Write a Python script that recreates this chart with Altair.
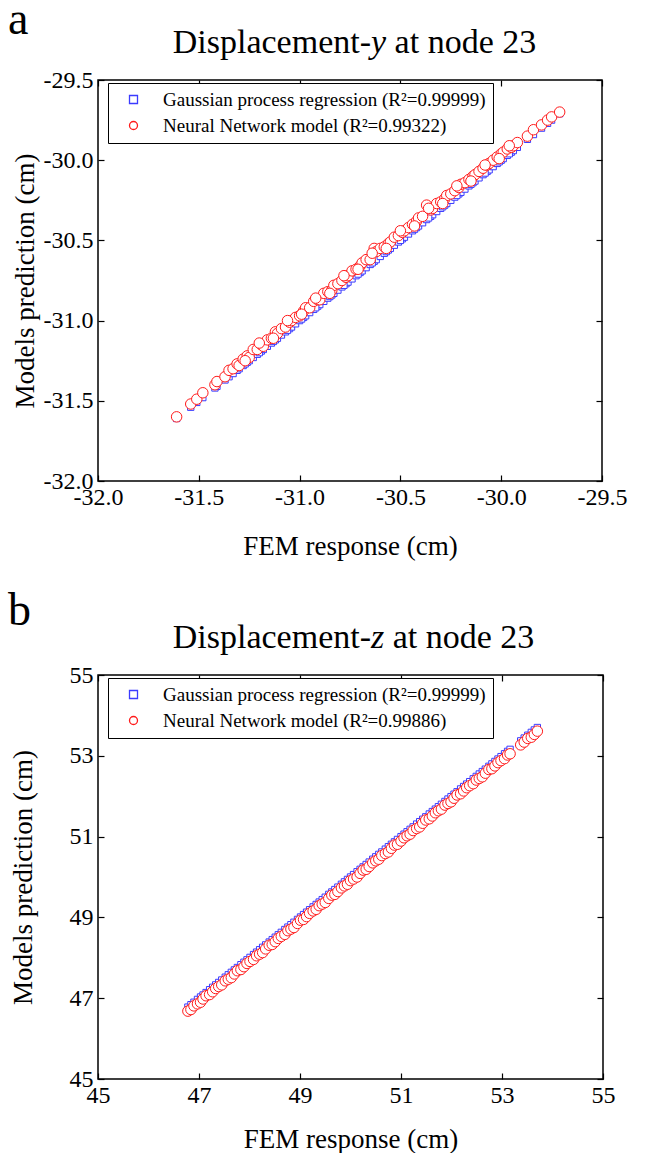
import altair as alt
import pandas as pd

# ---------------- data: panel a (Displacement-y) ----------------
fem_a = [
    -31.61, -31.54, -31.51, -31.48, -31.42, -31.41, -31.37, -31.35, -31.33, -31.31,
    -31.30, -31.28, -31.26, -31.25, -31.23, -31.21, -31.19, -31.18, -31.16, -31.14,
    -31.12, -31.11, -31.09, -31.07, -31.05, -31.04, -31.02, -31.00, -30.98, -30.97,
    -30.95, -30.93, -30.91, -30.90, -30.88, -30.86, -30.84, -30.83, -30.81, -30.79,
    -30.77, -30.76, -30.74, -30.72, -30.70, -30.69, -30.67, -30.65, -30.63, -30.62,
    -30.60, -30.58, -30.56, -30.55, -30.53, -30.51, -30.49, -30.48, -30.46, -30.44,
    -30.42, -30.41, -30.39, -30.37, -30.35, -30.34, -30.32, -30.30, -30.28, -30.27,
    -30.25, -30.23, -30.21, -30.20, -30.18, -30.16, -30.14, -30.13, -30.11, -30.09,
    -30.07, -30.06, -30.04, -30.02, -30.00, -29.99, -29.97, -29.95, -29.94, -29.92,
    -29.87, -29.84, -29.80, -29.77, -29.75, -29.71,
    -31.27, -31.20, -31.13, -31.06, -30.99, -30.92, -30.85, -30.78, -30.71, -30.64,
    -30.57, -30.50, -30.43, -30.36, -30.29, -30.22, -30.15, -30.08, -30.01, -29.96,
]
gpr_a = [
    -31.61, -31.54, -31.51, -31.48, -31.42, -31.41, -31.37, -31.35, -31.33, -31.31,
    -31.30, -31.28, -31.26, -31.25, -31.23, -31.21, -31.19, -31.18, -31.16, -31.14,
    -31.12, -31.11, -31.09, -31.07, -31.05, -31.04, -31.02, -31.00, -30.98, -30.97,
    -30.95, -30.93, -30.91, -30.90, -30.88, -30.86, -30.84, -30.83, -30.81, -30.79,
    -30.77, -30.76, -30.74, -30.72, -30.70, -30.69, -30.67, -30.65, -30.63, -30.62,
    -30.60, -30.58, -30.56, -30.55, -30.53, -30.51, -30.49, -30.48, -30.46, -30.44,
    -30.42, -30.41, -30.39, -30.37, -30.35, -30.34, -30.32, -30.30, -30.28, -30.27,
    -30.25, -30.23, -30.21, -30.20, -30.18, -30.16, -30.14, -30.13, -30.11, -30.09,
    -30.07, -30.06, -30.04, -30.02, -30.00, -29.99, -29.97, -29.95, -29.94, -29.92,
    -29.87, -29.84, -29.80, -29.77, -29.75, -29.71,
    -31.27, -31.20, -31.13, -31.06, -30.99, -30.92, -30.85, -30.78, -30.71, -30.64,
    -30.57, -30.50, -30.43, -30.36, -30.29, -30.22, -30.15, -30.08, -30.01, -29.96,
]
nn_a = [
    -31.60, -31.52, -31.49, -31.45, -31.40, -31.38, -31.35, -31.31, -31.30, -31.27,
    -31.28, -31.24, -31.22, -31.23, -31.18, -31.18, -31.15, -31.16, -31.12, -31.11,
    -31.07, -31.08, -31.05, -31.04, -31.01, -31.00, -30.98, -30.97, -30.94, -30.92,
    -30.92, -30.88, -30.87, -30.87, -30.83, -30.82, -30.81, -30.78, -30.77, -30.75,
    -30.73, -30.72, -30.69, -30.68, -30.66, -30.64, -30.62, -30.62, -30.55, -30.57,
    -30.55, -30.54, -30.52, -30.51, -30.48, -30.47, -30.45, -30.44, -30.42, -30.40,
    -30.38, -30.36, -30.35, -30.28, -30.31, -30.30, -30.27, -30.26, -30.24, -30.22,
    -30.21, -30.19, -30.17, -30.15, -30.14, -30.12, -30.10, -30.09, -30.07, -30.05,
    -30.03, -30.02, -30.00, -29.98, -29.96, -29.95, -29.93, -29.92, -29.91, -29.89,
    -29.85, -29.81, -29.78, -29.75, -29.73, -29.70,
    -31.25, -31.14, -31.11, -31.00, -30.96, -30.86, -30.83, -30.72, -30.68, -30.58,
    -30.55, -30.44, -30.41, -30.30, -30.27, -30.16, -30.13, -30.03, -29.99, -29.91,
]

# ---------------- data: panel b (Displacement-z) ----------------
fem_b = [
    46.78, 46.84, 46.90, 46.97, 47.03, 47.08, 47.14, 47.21, 47.27, 47.33,
    47.39, 47.45, 47.52, 47.58, 47.64, 47.70, 47.76, 47.83, 47.89, 47.95,
    48.01, 48.08, 48.14, 48.20, 48.26, 48.32, 48.39, 48.45, 48.51, 48.57,
    48.63, 48.70, 48.76, 48.82, 48.88, 48.95, 49.01, 49.07, 49.13, 49.19,
    49.26, 49.32, 49.38, 49.44, 49.50, 49.57, 49.63, 49.69, 49.75, 49.82,
    49.88, 49.94, 50.00, 50.06, 50.13, 50.19, 50.25, 50.31, 50.37, 50.44,
    50.50, 50.56, 50.62, 50.69, 50.75, 50.81, 50.87, 50.93, 51.00, 51.06,
    51.12, 51.18, 51.24, 51.31, 51.37, 51.43, 51.49, 51.56, 51.62, 51.68,
    51.74, 51.80, 51.87, 51.93, 51.99, 52.05, 52.11, 52.18, 52.24, 52.30,
    52.36, 52.43, 52.49, 52.55, 52.61, 52.67, 52.74, 52.80, 52.86, 52.92,
    52.98, 53.05, 53.11, 53.16, 53.37, 53.44, 53.51, 53.58, 53.64, 53.70,
]
gpr_b = [
    46.78, 46.84, 46.90, 46.97, 47.03, 47.08, 47.14, 47.21, 47.27, 47.33,
    47.39, 47.45, 47.52, 47.58, 47.64, 47.70, 47.76, 47.83, 47.89, 47.95,
    48.01, 48.08, 48.14, 48.20, 48.26, 48.32, 48.39, 48.45, 48.51, 48.57,
    48.63, 48.70, 48.76, 48.82, 48.88, 48.95, 49.01, 49.07, 49.13, 49.19,
    49.26, 49.32, 49.38, 49.44, 49.50, 49.57, 49.63, 49.69, 49.75, 49.82,
    49.88, 49.94, 50.00, 50.06, 50.13, 50.19, 50.25, 50.31, 50.37, 50.44,
    50.50, 50.56, 50.62, 50.69, 50.75, 50.81, 50.87, 50.93, 51.00, 51.06,
    51.12, 51.18, 51.24, 51.31, 51.37, 51.43, 51.49, 51.56, 51.62, 51.68,
    51.74, 51.80, 51.87, 51.93, 51.99, 52.05, 52.11, 52.18, 52.24, 52.30,
    52.36, 52.43, 52.49, 52.55, 52.61, 52.67, 52.74, 52.80, 52.86, 52.92,
    52.98, 53.05, 53.11, 53.16, 53.37, 53.44, 53.51, 53.58, 53.64, 53.70,
]
nn_b = [
    46.68, 46.72, 46.81, 46.86, 46.90, 46.98, 47.06, 47.09, 47.16, 47.24,
    47.29, 47.33, 47.43, 47.47, 47.51, 47.60, 47.68, 47.71, 47.78, 47.86,
    47.91, 47.96, 48.05, 48.09, 48.13, 48.22, 48.31, 48.33, 48.40, 48.48,
    48.53, 48.58, 48.67, 48.71, 48.75, 48.85, 48.93, 48.95, 49.02, 49.10,
    49.16, 49.20, 49.29, 49.33, 49.37, 49.47, 49.55, 49.57, 49.64, 49.73,
    49.78, 49.82, 49.91, 49.95, 50.00, 50.09, 50.17, 50.19, 50.26, 50.35,
    50.40, 50.44, 50.53, 50.58, 50.62, 50.71, 50.79, 50.81, 50.89, 50.97,
    51.02, 51.06, 51.15, 51.20, 51.24, 51.33, 51.41, 51.44, 51.51, 51.59,
    51.64, 51.68, 51.78, 51.82, 51.86, 51.95, 52.03, 52.06, 52.13, 52.21,
    52.26, 52.31, 52.40, 52.44, 52.48, 52.57, 52.66, 52.68, 52.75, 52.83,
    52.88, 52.93, 53.02, 53.05, 53.27, 53.34, 53.43, 53.46, 53.53, 53.61,
]

labels_a = ["Gaussian process regression (R²=0.99999)", "Neural Network model (R²=0.99322)"]
labels_b = ["Gaussian process regression (R²=0.99999)", "Neural Network model (R²=0.99886)"]
ticks_a = [-32.0, -31.5, -31.0, -30.5, -30.0, -29.5]
ticks_b = [45, 47, 49, 51, 53, 55]

FONT = "Liberation Serif, Times New Roman, Times, serif"
BLUE = "#3b3bff"
RED = "#ff1a1a"
LBL_A = "(datum.value < 0 ? '-' : '') + format(abs(datum.value), '.1f')"
LBL_B = "format(datum.value, 'd')"


def text_layer(txt, x, y, size, align="left", style="normal"):
    return alt.Chart(pd.DataFrame({"t": [txt]})).mark_text(
        font=FONT, fontSize=size, align=align, baseline="alphabetic",
        fontStyle=style, color="black",
    ).encode(x=alt.value(x), y=alt.value(y), text="t:N")


def panel(fem, gpr, nn, labels, ticks, lexpr, letter, letter_y, var, var_w, w, h, ytp, xtp):
    df_g = pd.DataFrame({"fem": fem, "pred": gpr, "model": [labels[0]] * len(gpr)})
    df_n = pd.DataFrame({"fem": fem, "pred": nn, "model": [labels[1]] * len(nn)})
    dom = [ticks[0], ticks[-1]]
    xs = alt.Scale(domain=dom, nice=False, zero=False)
    ys = alt.Scale(domain=dom, nice=False, zero=False)
    common_axis = dict(
        values=ticks, labelExpr=lexpr, offset=-6, domain=False, tickSize=6,
        tickColor="black", tickWidth=1.2, grid=False, labelFont=FONT,
        labelFontSize=24, labelColor="black", labelFlush=False,
        labelOverlap=False, titleFont=FONT, titleFontSize=27,
        titleFontWeight="normal", titleColor="black",
    )
    xa = alt.Axis(orient="bottom", title="FEM response (cm)", labelPadding=4,
                  titlePadding=xtp, **common_axis)
    ya = alt.Axis(orient="left", title="Models prediction (cm)", labelPadding=5,
                  titlePadding=ytp, **common_axis)
    xt = alt.Axis(orient="top", labels=False, title=None, values=ticks, offset=-6,
                  domain=False, tickSize=6, tickColor="black", tickWidth=1.2, grid=False)
    yt = alt.Axis(orient="right", labels=False, title=None, values=ticks, offset=-6,
                  domain=False, tickSize=6, tickColor="black", tickWidth=1.2, grid=False)
    leg = alt.Legend(
        title=None, orient="none", legendX=10, legendY=3, direction="vertical",
        strokeColor="black", fillColor="white", padding=7,
        labelFont=FONT, labelFontSize=19, labelColor="black", labelLimit=800,
        symbolSize=64, symbolStrokeWidth=1.3, symbolFillColor="white",
        symbolOffset=9, labelOffset=20, rowPadding=6,
    )
    color = alt.Color("model:N", scale=alt.Scale(domain=labels, range=[BLUE, RED]), legend=leg)
    shape = alt.Shape("model:N", scale=alt.Scale(domain=labels, range=["square", "circle"]), legend=leg)

    g = alt.Chart(df_g).mark_point(size=40, strokeWidth=1, fill="white", fillOpacity=1, opacity=1).encode(
        x=alt.X("fem:Q", scale=xs, axis=xa),
        y=alt.Y("pred:Q", scale=ys, axis=ya),
        color=color, shape=shape,
    )
    n = alt.Chart(df_n).mark_point(size=110, strokeWidth=1, fill="white", fillOpacity=1, opacity=1).encode(
        x=alt.X("fem:Q", scale=xs, axis=None),
        y=alt.Y("pred:Q", scale=ys, axis=None),
        color=color, shape=shape,
    )
    frame_axes = alt.Chart(df_g).mark_point(opacity=0, size=1).encode(
        x=alt.X("fem:Q", scale=xs, axis=xt),
        y=alt.Y("pred:Q", scale=ys, axis=yt),
    )
    x0 = 273
    t1 = text_layer("Displacement-", x0, -27, 34, align="right")
    t2 = text_layer(var, x0, -27, 34, style="italic")
    t3 = text_layer("at node 23", x0 + var_w + 8.5, -27, 34)
    lt = text_layer(letter, -90, letter_y, 46)
    return alt.layer(g, n, frame_axes, t1, t2, t3, lt).resolve_axis(
        x="independent", y="independent"
    ).properties(width=w, height=h)


pa = panel(fem_a, gpr_a, nn_a, labels_a, ticks_a, LBL_A, "a", -46, "y", 15.1, 504, 401, 4, 24)
pb = panel(fem_b, gpr_b, nn_b, labels_b, ticks_b, LBL_B, "b", -50, "z", 13.2, 505, 404, 32, 19)

chart = alt.vconcat(pa, pb, spacing=27).resolve_scale(
    color="independent", shape="independent"
).properties(
    padding={"left": 7, "top": -4, "right": 0, "bottom": 0}
).configure_view(stroke="black", strokeWidth=1.5)

chart.save("out.html", embed_options={"renderer": "svg", "actions": False})
